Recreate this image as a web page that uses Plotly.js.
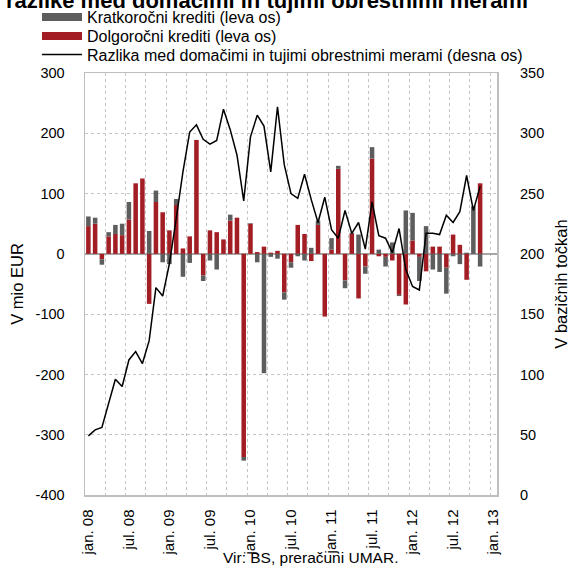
<!DOCTYPE html>
<html><head><meta charset="utf-8">
<script src="https://cdn.plot.ly/plotly-3.0.1.min.js"></script>
<style>html,body{margin:0;padding:0;background:#fff}#chart{width:578px;height:568px}</style>
</head><body><div id="chart"></div>
<script>
// All month categories on the axis (jan. 08 ... jan. 13)
const months = [
 "jan. 08","feb. 08","mar. 08","apr. 08","maj. 08","jun. 08","jul. 08","avg. 08","sep. 08","okt. 08","nov. 08","dec. 08",
 "jan. 09","feb. 09","mar. 09","apr. 09","maj. 09","jun. 09","jul. 09","avg. 09","sep. 09","okt. 09","nov. 09","dec. 09",
 "jan. 10","feb. 10","mar. 10","apr. 10","maj. 10","jun. 10","jul. 10","avg. 10","sep. 10","okt. 10","nov. 10","dec. 10",
 "jan. 11","feb. 11","mar. 11","apr. 11","maj. 11","jun. 11","jul. 11","avg. 11","sep. 11","okt. 11","nov. 11","dec. 11",
 "jan. 12","feb. 12","mar. 12","apr. 12","maj. 12","jun. 12","jul. 12","avg. 12","sep. 12","okt. 12","nov. 12","dec. 12",
 "jan. 13"
];
const tickLabels = ["jan. 08","jul. 08","jan. 09","jul. 09","jan. 10","jul. 10","jan. 11","jul. 11","jan. 12","jul. 12","jan. 13"];
const leftTicks = [300,200,100,0,-100,-200,-300,-400];
const rightTicks = [350,300,250,200,150,100,50,0];

// Kratkoročni krediti (leva os), mio EUR, jan. 08 - nov. 12
const shortTerm = [16,10,-9,7,15,19,29,0,0,38,19,-14,
  -17,10,-38,-15,0,-9,-11,-26,0,10,0,-6,
  1,-14,-198,-5,-8,-12,-9,-4,-11,10,7,0,
  19,5,-13,2,32,-12,19,7,-16,19,-2,72,
  46,-40,46,-26,-30,-43,-4,-17,2,79,-21];
// Dolgoročni krediti (leva os), mio EUR
const longTerm = [46,50,-9,29,33,31,57,117,125,-83,86,69,
  39,81,9,29,189,-36,39,36,24,55,60,-337,
  50,3,12,2,5,-64,-14,48,33,-12,48,-104,
  7,141,-44,33,-74,-21,158,-4,-5,-11,-68,-84,
  22,-5,-29,12,12,-23,32,15,-43,0,117];
// Razlika med domačimi in tujimi obrestnimi merami (desna os), bazične točke
const spread = [49,54,56,76,96,90,112,119,109,128,172,165,
  192,229,268,301,307,295,291,294,320,303,282,244,
  297,315,306,268,322,274,250,246,266,245,226,247,
  220,213,236,217,226,204,243,215,213,201,221,187,
  173,170,217,217,216,232,226,235,265,236,256];

const names = ["Kratkoročni krediti (leva os)","Dolgoročni krediti (leva os)","Razlika med domačimi in tujimi obrestnimi merami (desna os)"];
const GRAY = "#5d5d5d", RED = "#a31e24";
const FONT = "Liberation Sans, Arial, sans-serif";

const xs = longTerm.map((_, i) => months.indexOf(months[i]));
const tickvals = tickLabels.map(l => months.indexOf(l));

const traces = [
  {type:"bar", x: xs, y: longTerm, marker:{color: RED}, name: names[1], showlegend:false, hoverinfo:"skip"},
  {type:"bar", x: xs, y: shortTerm, marker:{color: GRAY}, name: names[0], showlegend:false, hoverinfo:"skip"},
  {type:"scatter", mode:"lines", x:[null], y:[null], name: names[0], legend:"legend", line:{color: GRAY, width:8}},
  {type:"scatter", mode:"lines", x:[null], y:[null], name: names[1], legend:"legend2", line:{color: RED, width:8}},
  {type:"scatter", mode:"lines", x: xs, y: spread, yaxis:"y2", name: names[2], legend:"legend3", line:{color:"#000", width:1.5}}
];

const legX = (37-85)/412;
const legRow = px => (495.3-px)/422;
const legBase = {x: legX, xanchor:"left", yanchor:"middle", font:{family: FONT, size:16}, bgcolor:"rgba(0,0,0,0)", itemwidth:40};

const layout = {
  width:578, height:568,
  margin:{l:85, r:81, t:73, b:73, autoexpand:false},
  paper_bgcolor:"#fff", plot_bgcolor:"#fff",
  font:{family: FONT, size:14, color:"#000"},
  barmode:"relative", bargap:0.33,
  showlegend:true,
  title:{text:"<b>razlike med domačimi in tujimi obrestnimi merami</b>", x:0.462, xref:"container", xanchor:"center",
         y:1-8/568, yref:"container", yanchor:"bottom", font:{family: FONT, size:22, color:"#000"}},
  legend: Object.assign({}, legBase, {y: legRow(17.5)}),
  legend2: Object.assign({}, legBase, {y: legRow(36.5)}),
  legend3: Object.assign({}, legBase, {y: legRow(55)}),
  xaxis:{range:[-0.5, 60.5], tickmode:"array", tickvals: tickvals, ticktext: tickLabels, tickangle:-90,
         showgrid:false, zeroline:false, ticks:"", showline:true, mirror:true, linecolor:"#bfbfbf", linewidth:1.5,
         minor:{tick0:-0.5, dtick:3, showgrid:true, gridcolor:"#c4c4c4", griddash:"dot", gridwidth:1, ticks:""},
         ticklabelstandoff:7, tickfont:{size:15}},
  yaxis:{range:[-400,300], tickmode:"array", tickvals: leftTicks, ticktext: leftTicks.map(String),
         showgrid:true, gridcolor:"#c4c4c4", griddash:"dot", gridwidth:1,
         zeroline:true, zerolinecolor:"#a6a6a6", zerolinewidth:2.5, showline:true, mirror:true, linecolor:"#bfbfbf", linewidth:1.5,
         ticks:"", ticklabelstandoff:16, title:{text:"V mio EUR", standoff:8, font:{size:16.5}}, tickfont:{size:14.5}},
  yaxis2:{range:[0,350], tickmode:"array", tickvals: rightTicks, ticktext: rightTicks.map(String),
          overlaying:"y", side:"right", showgrid:false, zeroline:false, ticks:"", ticklabelstandoff:22,
          title:{text:"V bazičnih točkah", standoff:12, font:{size:16.5}}, tickfont:{size:14.5}},
  annotations:[{text:"Vir: BS, preračuni UMAR.", xref:"paper", yref:"paper", x:(310-85)/412, y:(495.3-558)/422,
                xanchor:"center", yanchor:"middle", showarrow:false, font:{family: FONT, size:15.5}}]
};

Plotly.newPlot("chart", traces, layout, {displayModeBar:false, staticPlot:true});
</script>
</body></html>
